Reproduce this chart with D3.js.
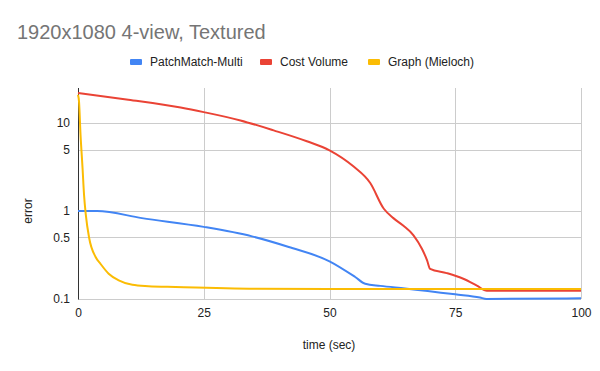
<html>
<head>
<script src="https://d3js.org/d3.v7.min.js"></script>
<style>
  body { margin:0; background:#fff; }
  text { font-family: Arial, "Liberation Sans", sans-serif; }
</style>
</head>
<body>
<svg width="600" height="371"></svg>
<script>
// data
var seriesNames = ["PatchMatch-Multi", "Cost Volume", "Graph (Mieloch)"];
var colors = ["#4285f4", "#ea4335", "#fbbc04"];

var patchTime = [0, 3.8, 12.7, 25, 34.6, 41.9, 50, 55.1, 57.1, 60.1, 65, 75, 79.9, 81.2, 100];
var patchErr  = [1, 1, 0.83, 0.66, 0.515, 0.39, 0.268, 0.178, 0.149, 0.141, 0.132, 0.113, 0.104, 0.1, 0.102];

var costTime = [0, 10, 20.4, 25, 32.3, 38.9, 45.5, 50, 54.8, 58.1, 60.8, 62.7, 64.7, 66.7, 68.4, 69.4, 70, 73.3, 76.6, 79.3, 81.3, 100];
var costErr  = [21.9, 18.4, 15, 13.3, 10.7, 8.25, 6.2, 4.9, 3.2, 2.08, 1.06, 0.83, 0.68, 0.53, 0.37, 0.275, 0.22, 0.197, 0.17, 0.142, 0.124, 0.124];

var graphTime = [0, 0.2, 0.5, 0.9, 1.2, 1.55, 2.2, 3.5, 4.5, 6.1, 8.1, 10.8, 14, 19.4, 35.3, 60, 100];
var graphErr  = [21, 17.6, 7.4, 3.1, 1.53, 0.91, 0.5, 0.3, 0.25, 0.194, 0.163, 0.145, 0.14, 0.137, 0.131, 0.13, 0.13];

var xTicks = [0, 25, 50, 75, 100];
var yTicks = [0.1, 0.5, 1, 5, 10];

var svg = d3.select("svg");
var marge = {left: 78, right: 581, top: 88, bottom: 299};

var x = d3.scaleLinear().domain([0, 100]).range([marge.left, marge.right]);
var y = d3.scaleLog().domain([0.1, 25]).range([marge.bottom, marge.top]);

// gridlines
svg.append("g").selectAll("line").data(yTicks).enter().append("line")
  .attr("x1", marge.left).attr("x2", marge.right)
  .attr("y1", function(d){ return Math.round(y(d)) + 0.5; })
  .attr("y2", function(d){ return Math.round(y(d)) + 0.5; })
  .attr("stroke", "#cccccc");
svg.append("g").selectAll("line").data(xTicks.slice(1)).enter().append("line")
  .attr("y1", marge.top).attr("y2", marge.bottom)
  .attr("x1", function(d){ return Math.round(x(d)) + 0.5; })
  .attr("x2", function(d){ return Math.round(x(d)) + 0.5; })
  .attr("stroke", "#cccccc");

// axes
var xAxis = d3.axisBottom(x).tickValues(xTicks).tickSize(0).tickPadding(9);
var gx = svg.append("g").attr("transform", "translate(0," + marge.bottom + ")").call(xAxis);
gx.select(".domain").remove();
gx.selectAll("text").attr("font-size", 12).attr("fill", "#222").attr("font-family", "Arial, 'Liberation Sans', sans-serif");

var yAxis = d3.axisLeft(y).tickValues(yTicks).tickFormat(d3.format("")).tickSize(0).tickPadding(8);
var gy = svg.append("g").attr("transform", "translate(" + marge.left + ",0)").call(yAxis);
gy.select(".domain").remove();
gy.selectAll("text").attr("font-size", 12).attr("fill", "#222").attr("font-family", "Arial, 'Liberation Sans', sans-serif");

svg.append("line")
  .attr("x1", marge.left + 0.5).attr("x2", marge.left + 0.5)
  .attr("y1", marge.top).attr("y2", marge.bottom + 0.5)
  .attr("stroke", "#333");

// lines
var line = d3.line()
  .x(function(d){ return x(d[0]); })
  .y(function(d){ return y(d[1]); })
  .curve(d3.curveMonotoneX);

var series = [
  d3.zip(patchTime, patchErr),
  d3.zip(costTime, costErr),
  d3.zip(graphTime, graphErr)
];

series.forEach(function(s, i){
  svg.append("path")
    .datum(s)
    .attr("d", line)
    .attr("fill", "none")
    .attr("stroke", colors[i])
    .attr("stroke-width", 2);
});

// title
svg.append("text")
  .attr("x", 17).attr("y", 39)
  .attr("font-size", 20)
  .attr("fill", "#757575")
  .text("1920x1080 4-view, Textured");

// legend
var legendX = [130, 260, 368];
var lg = svg.selectAll(".legend").data(seriesNames).enter().append("g")
  .attr("transform", function(d, i){ return "translate(" + legendX[i] + ",62)"; });
lg.append("rect")
  .attr("x", 0).attr("y", -3).attr("width", 12).attr("height", 6)
  .attr("rx", 1)
  .attr("fill", function(d, i){ return colors[i]; });
lg.append("text")
  .attr("x", 20).attr("y", 4)
  .attr("font-size", 12).attr("fill", "#222")
  .text(function(d){ return d; });

// axis titles
svg.append("text")
  .attr("x", 329).attr("y", 349)
  .attr("text-anchor", "middle")
  .attr("font-size", 12).attr("fill", "#222")
  .text("time (sec)");
svg.append("text")
  .attr("transform", "translate(32,211) rotate(-90)")
  .attr("text-anchor", "middle")
  .attr("font-size", 12).attr("fill", "#222")
  .text("error");
</script>
</body>
</html>
